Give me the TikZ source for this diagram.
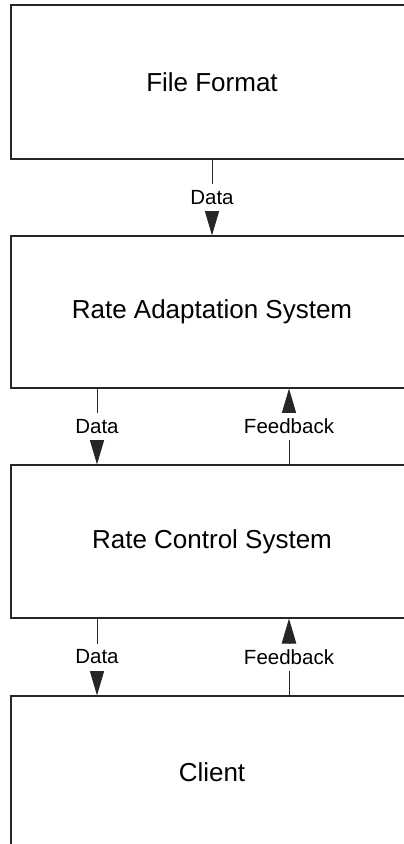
\documentclass[tikz,border=0pt]{standalone}
\usepackage{fontspec}
\setmainfont{Liberation Sans}
\usetikzlibrary{arrows.meta}

\tikzset{
  stage/.style={draw=black!85, line width=1.2pt, rectangle, inner sep=0pt,
    minimum width=402pt, font=\fontsize{26}{30}\selectfont},
  flow/.style={draw=black!85, line width=1pt,
    -{Triangle[length=25pt,width=14.5pt]}},
  flowlabel/.style={fill=white, inner sep=0pt, minimum height=27pt,
    font=\fontsize{20.5}{24}\selectfont}
}

\begin{document}
\begin{tikzpicture}[x=1pt, y=-1pt]
  % page frame; the boxes run past the right and bottom edges
  \path[use as bounding box, clip] (0,0) rectangle (404,844);

  % processing stages
  \node[stage, minimum height=154pt] (fmt)    at (212,82)    {File Format};
  \node[stage, minimum height=152pt] (adapt)  at (212,312)   {Rate Adaptation System};
  \node[stage, minimum height=153pt] (ctrl)   at (212,541.5) {Rate Control System};
  \node[stage, minimum height=153pt] (client) at (212,772.5) {Client};

  % data flowing down
  \draw[flow] (fmt.south) -- node[flowlabel] {Data} (adapt.north);
  \draw[flow] ([xshift=-115pt]adapt.south) -- node[flowlabel] {Data} ([xshift=-115pt]ctrl.north);
  \draw[flow] ([xshift=-115pt]ctrl.south) -- node[flowlabel] {Data} ([xshift=-115pt]client.north);

  % feedback flowing up
  \draw[flow] ([xshift=77pt]ctrl.north) -- node[flowlabel] {Feedback} ([xshift=77pt]adapt.south);
  \draw[flow] ([xshift=77pt]client.north) -- node[flowlabel] {Feedback} ([xshift=77pt]ctrl.south);
\end{tikzpicture}
\end{document}
